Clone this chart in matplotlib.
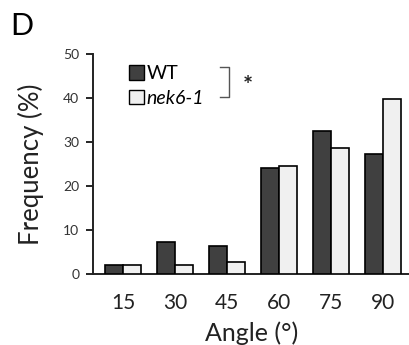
import matplotlib
matplotlib.use("Agg")
import matplotlib.pyplot as plt
import numpy as np
from matplotlib.patches import Patch

angles = ["15", "30", "45", "60", "75", "90"]
wt = [2.0, 7.3, 6.3, 24.0, 32.6, 27.2]
nek = [2.0, 2.0, 2.7, 24.5, 28.6, 39.8]
series_names = ["WT", "nek6-1"]
yticks = [0, 10, 20, 30, 40, 50]

plt.rcParams['font.family'] = ['Lato', 'DejaVu Sans']

fig = plt.figure(figsize=(4.1, 3.45), dpi=100)
ax = fig.add_axes([0.227, 0.206, 0.773, 0.637])

x = np.arange(len(angles))
w = 0.35
ax.bar(x - w/2, wt, w, color='#404040', edgecolor='black', linewidth=1.2, zorder=3)
ax.bar(x + w/2, nek, w, color='#f0f0f0', edgecolor='black', linewidth=1.2, zorder=3)

ax.set_xlim(-0.58, 5.52)
ax.set_ylim(0, 50)
ax.set_yticks(yticks)
ax.set_yticklabels([str(v) for v in yticks], fontsize=10, color='#333333')
ax.set_xticks(x)
ax.set_xticklabels(angles, fontsize=15, color='#222222')
ax.tick_params(axis='x', length=0, pad=14)
ax.tick_params(axis='y', length=5, width=1.2, pad=5, direction='out')
for s in ['top', 'right']:
    ax.spines[s].set_visible(False)
for s in ['left', 'bottom']:
    ax.spines[s].set_linewidth(1.4)
    ax.spines[s].set_color('#222222')

ax.set_ylabel("Frequency (%)", fontsize=18.5, color='#222222', labelpad=14)
ax.set_xlabel("Angle (°)", fontsize=18, color='#222222', labelpad=6)

handles = [Patch(facecolor='#404040', edgecolor='black', linewidth=1.0),
           Patch(facecolor='#f0f0f0', edgecolor='black', linewidth=1.0)]
leg = ax.legend(handles, series_names, loc='upper left', bbox_to_anchor=(0.09, 0.985),
                frameon=False, fontsize=14, handlelength=0.75, handleheight=0.75,
                handletextpad=0.15, labelspacing=0.4, borderaxespad=0)
leg.get_texts()[1].set_style('italic')

# significance bracket
bx0, bx1 = 0.40, 0.43
by0, by1 = 0.805, 0.94
ax.plot([bx0, bx1, bx1, bx0], [by1, by1, by0, by0], transform=ax.transAxes,
        color='#555555', linewidth=1.0, clip_on=False)
ax.text(0.487, 0.855, "*", transform=ax.transAxes, fontsize=17, ha='center', va='center',
        color='#222222', fontweight='bold')

fig.text(0.025, 0.965, "D", fontsize=22, ha='left', va='top', color='black')

fig.savefig("out.png", dpi=100)
